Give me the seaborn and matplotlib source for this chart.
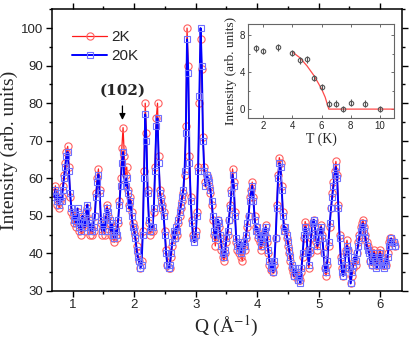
"""
Neutron diffraction profiles at 2K and 20K, with the (102) peak intensity
versus temperature as an inset.
"""

import matplotlib
matplotlib.use("Agg")
import matplotlib.pyplot as plt
import numpy as np
import seaborn as sns
from matplotlib.ticker import MultipleLocator

# Q grid of the scan (A^-1)
Q_START, Q_STEP, N_POINTS = 0.70, 0.02, 278
q = np.round(Q_START + Q_STEP * np.arange(N_POINTS), 2)

# Intensity at 20K, one row per 0.2 A^-1
i_20k = [
    55, 57, 54, 56, 53, 55, 54, 57, 60, 63,
    66, 67, 62, 56, 52, 51, 49, 50, 48, 52,
    47, 49, 46, 50, 48, 47, 51, 53, 49, 46,
    48, 46, 47, 50, 55, 59, 61, 56, 49, 46,
    48, 46, 50, 52, 51, 49, 46, 48, 45, 44,
    46, 45, 49, 53, 58, 64, 67, 60, 58, 60,
    56, 52, 54, 50, 47, 46, 44, 41, 39, 38,
    36, 37, 45, 60, 77, 70, 56, 49, 46, 47,
    47, 52, 62, 74, 76, 64, 56, 54, 52, 50,
    45, 40, 37, 36, 37, 40, 43, 46, 44, 47,
    46, 49, 51, 53, 55, 57, 62, 72, 97, 88,
    64, 54, 48, 44, 43, 45, 50, 62, 82, 100,
    90, 70, 62, 58, 61, 60, 59, 57, 54, 50,
    46, 44, 47, 49, 48, 45, 42, 40, 39, 41,
    44, 46, 49, 52, 56, 61, 58, 50, 44, 42,
    41, 43, 40, 41, 43, 42, 45, 48, 50, 54,
    56, 58, 54, 49, 46, 47, 45, 44, 42, 43,
    45, 46, 47, 44, 41, 38, 36, 37, 35, 38,
    44, 52, 60, 64, 63, 57, 50, 46, 47, 45,
    43, 41, 39, 37, 36, 34, 36, 35, 33, 34,
    32, 36, 40, 45, 47, 46, 40, 37, 41, 45,
    48, 49, 47, 44, 42, 44, 46, 47, 44, 40,
    36, 35, 38, 43, 48, 52, 55, 58, 61, 63,
    60, 52, 44, 38, 35, 34, 37, 40, 42, 41,
    36, 32, 35, 37, 39, 38, 40, 42, 44, 46,
    47, 48, 46, 44, 42, 41, 40, 38, 37, 39,
    40, 38, 36, 37, 39, 40, 38, 37, 36, 38,
    37, 39, 42, 43, 44, 42, 43, 42,
]

# Intensity at 2K
i_2k = [
    56, 58, 53, 55, 52, 54, 55, 58, 61, 64,
    67, 68.5, 63, 55, 51, 50, 48, 49, 47, 51,
    46, 48, 45, 49, 47, 46, 50, 52, 48, 45,
    47, 45, 46, 50, 56, 60, 62.5, 57, 48, 45,
    47, 45, 49, 53, 50, 48, 45, 47, 44, 43,
    45, 44, 48, 54, 60, 68, 73.5, 66, 61, 63,
    57, 53, 55, 51, 48, 47, 45, 42, 40, 38,
    36, 38, 46, 62, 80, 72, 57, 48, 45, 46,
    46, 51, 63, 76, 80, 66, 57, 55, 53, 51,
    46, 41, 37, 36, 36, 39, 42, 45, 44, 46,
    45, 48, 50, 52, 54, 56, 61, 74, 100, 90,
    66, 55, 49, 45, 44, 46, 51, 63, 80, 97,
    89, 71, 63, 59, 61, 60, 58, 56, 53, 49,
    45, 42, 46, 49, 47, 44, 41, 39, 38, 40,
    43, 45, 49, 53, 57, 62.5, 59, 51, 43, 41,
    40, 42, 39, 38, 42, 41, 44, 47, 50, 55,
    57, 59, 55, 50, 47, 46, 44, 43, 41, 42,
    44, 45, 47.5, 43, 40, 37, 35.5, 36, 35, 37,
    44, 53, 61, 65.5, 64, 58, 51, 47, 46, 44,
    42, 40, 38, 36, 35, 34, 35, 34, 33, 34,
    33, 35, 39, 44, 48.5, 47, 41, 36, 40, 44,
    48, 49, 47, 43, 41, 44, 46, 47.5, 45, 40,
    36, 34, 37, 42, 47, 52, 56, 59, 62, 64.5,
    61, 53, 45, 39, 36, 34, 36, 41, 43.5, 41,
    36, 32, 34, 36, 38, 37, 40, 43, 45, 47,
    48, 49, 47, 45, 43, 42, 41, 38, 37, 40,
    41, 39, 37, 37, 40, 41, 39, 37, 37, 38,
    37, 40, 43, 44, 44, 43, 43, 42,
]

# Inset: (102) peak intensity vs temperature
temp = [1.5, 2, 3, 4, 4.5, 5, 5.5, 6, 6.5, 7, 7.5, 8, 9, 10]
peak_int = [6.6, 6.3, 6.7, 6.1, 5.3, 5.4, 3.4, 2.4, 0.6, 0.6, 0.0, 0.7, 0.6, 0.0]
peak_err = [0.35] * len(temp)
fit_t = [4.0, 4.5, 5.0, 5.5, 6.0, 6.25, 6.5, 11.0]
fit_i = [6.2, 5.6, 4.7, 3.6, 2.2, 1.3, 0.0, 0.0]

sns.set_style("ticks")
plt.rcParams["font.family"] = ["Liberation Sans", "DejaVu Sans"]
plt.rcParams["mathtext.fontset"] = "stix"
SERIF = ["Liberation Serif", "DejaVu Serif"]

fig = plt.figure(figsize=(4.15, 3.39), dpi=100)
ax = fig.add_axes([0.1246, 0.1416, 0.8434, 0.831])

sns.lineplot(x=q, y=i_2k, ax=ax, color="#ff1a1a", lw=0.9, marker="o",
             markersize=5.2, mfc="none", mec="#ff6060", mew=0.8,
             estimator=None, sort=False, label="2K")
sns.lineplot(x=q, y=i_20k, ax=ax, color="#0000ff", lw=1.4, marker="s",
             markersize=4.6, mfc="none", mec="#7070ff", mew=0.8,
             estimator=None, sort=False, label="20K")

ax.set_xlim(0.66, 6.35)
ax.set_ylim(30, 105)
ax.xaxis.set_major_locator(MultipleLocator(1))
ax.xaxis.set_minor_locator(MultipleLocator(0.5))
ax.yaxis.set_major_locator(MultipleLocator(10))
ax.yaxis.set_minor_locator(MultipleLocator(5))
ax.tick_params(which="both", direction="out", top=True, right=True,
               labeltop=False, labelright=False, width=1, color="black")
ax.tick_params(which="major", length=4, labelsize=9.5, pad=2)
ax.tick_params(which="minor", length=2.5)
for s in ax.spines.values():
    s.set_linewidth(1.1)
    s.set_color("black")

ax.set_xlabel(r"Q (Å$^{-1}$)", family=SERIF, fontsize=14, labelpad=2)
ax.set_ylabel("Intensity (arb. units)", family=SERIF, fontsize=14, labelpad=2)

ax.legend(loc="upper left", bbox_to_anchor=(0.058, 0.925), frameon=False,
          fontsize=11, handlelength=2.3, handletextpad=0.3, labelspacing=0.3,
          borderpad=0, borderaxespad=0)

ax.annotate("", xy=(1.81, 74.8), xytext=(1.81, 80),
            arrowprops=dict(arrowstyle="-|>", color="black", lw=0.9,
                            mutation_scale=9))
ax.text(1.81, 83.3, "(102)", ha="center", va="center", fontsize=11,
        fontweight="bold", family=["DejaVu Serif"])

# inset
axi = fig.add_axes([0.597, 0.651, 0.353, 0.277])
sns.lineplot(x=fit_t, y=fit_i, ax=axi, color="#ff4a4a", lw=0.9,
             estimator=None, sort=False)
axi.errorbar(temp, peak_int, yerr=peak_err, fmt="o", ms=3.2, mfc="none",
             mec="#555555", mew=0.8, ecolor="#555555", elinewidth=0.8,
             capsize=0)
axi.set_xlim(0.93, 11)
axi.set_ylim(-1, 9.2)
axi.xaxis.set_major_locator(MultipleLocator(2))
axi.yaxis.set_major_locator(MultipleLocator(4))
axi.yaxis.set_minor_locator(MultipleLocator(2))
axi.tick_params(which="both", direction="in", top=True, right=True,
                labelsize=7, pad=2, color="#555555", width=0.6)
axi.tick_params(which="major", length=2.5)
axi.tick_params(which="minor", length=1.5)
for s in axi.spines.values():
    s.set_linewidth(0.8)
    s.set_color("#666666")
axi.set_xlabel("T (K)", family=SERIF, fontsize=10, labelpad=1)
axi.set_ylabel("Intensity (arb. units)", family=SERIF, fontsize=9.5, labelpad=2)

fig.savefig("out.png", dpi=100)
